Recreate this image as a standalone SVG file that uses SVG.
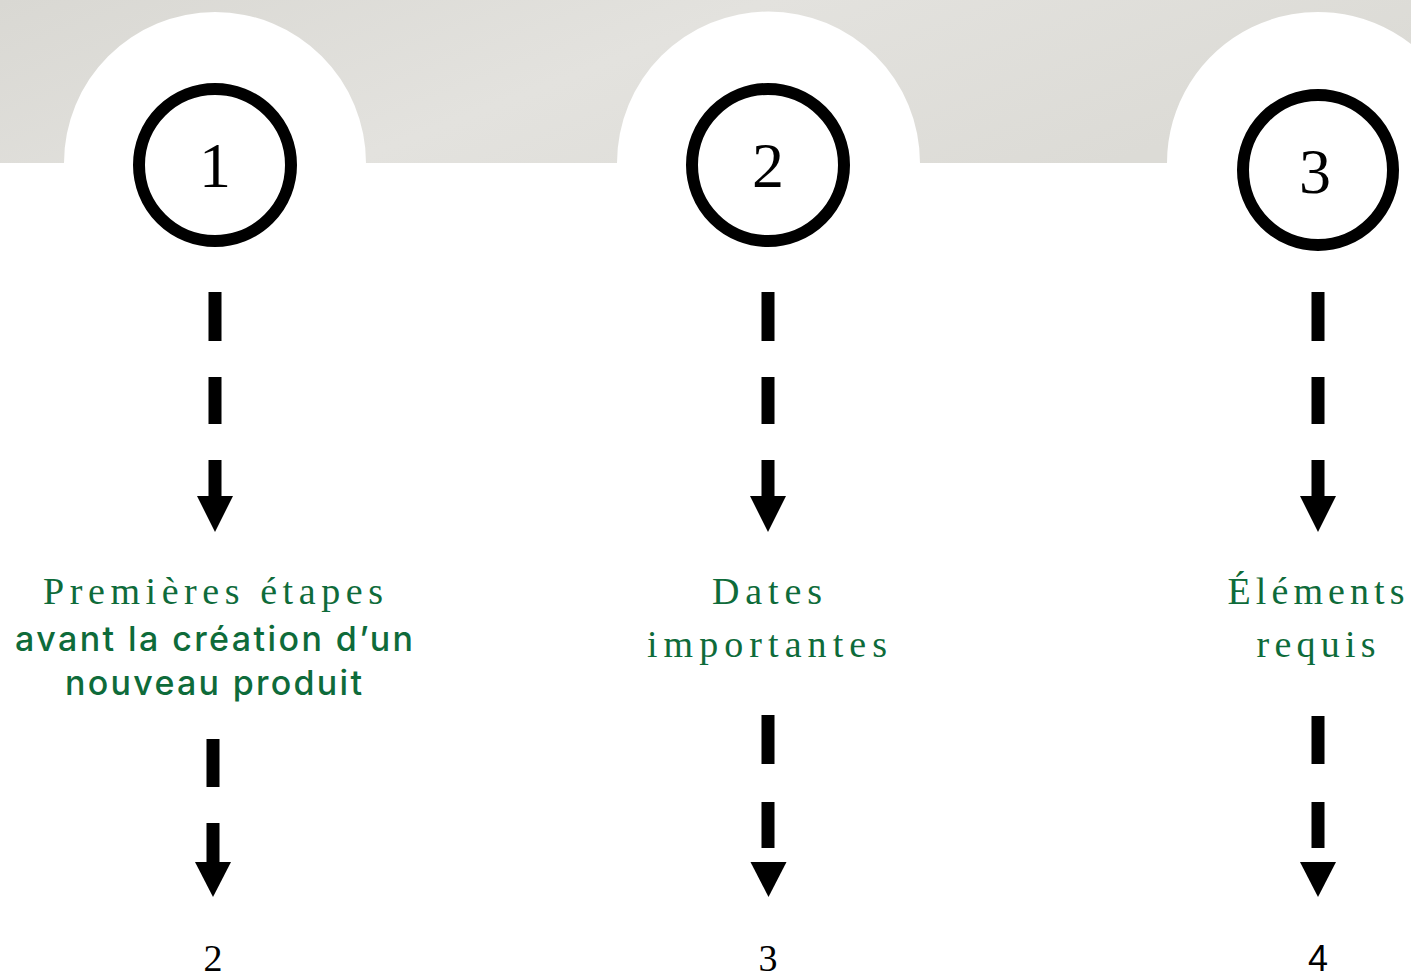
<svg xmlns="http://www.w3.org/2000/svg" width="1411" height="980" viewBox="0 0 1411 980">
  <defs>
    <linearGradient id="band" x1="0" y1="0" x2="1" y2="0.3">
      <stop offset="0" stop-color="#d9d8d3"/>
      <stop offset="0.5" stop-color="#e3e2de"/>
      <stop offset="1" stop-color="#dcdbd6"/>
    </linearGradient>
    <style>
      .ring { fill: #ffffff; stroke: #000000; stroke-width: 12; }
      .num { font-family: "Liberation Serif", "Times New Roman", serif; font-size: 64px; fill: #000000; text-anchor: middle; }
      .lab { font-family: "Liberation Serif", "Times New Roman", serif; font-size: 38px; fill: #0e6b3a; text-anchor: middle; }
      .sans { font-family: Inter, Lato, "Open Sans", "Liberation Sans", sans-serif; font-size: 34px; font-weight: 500; fill: #0e6b3a; text-anchor: middle; }
      .foot { font-family: "Liberation Serif", "Times New Roman", serif; font-size: 38px; fill: #000000; text-anchor: middle; }
      .foots { font-family: "Liberation Sans", Arial, sans-serif; font-size: 36px; fill: #000000; text-anchor: middle; }
      .dash { fill: #000000; }
    </style>
  </defs>
  <rect x="0" y="0" width="1411" height="980" fill="#ffffff"/>
  <path d="M0,0 H1411 V44 A151,151 0 0 0 1167,163 H920 A151,151 0 0 0 617,163 H366 A151,151 0 0 0 64,163 H0 Z" fill="url(#band)"/>

  <g id="connectors">
    <!-- column 1 upper -->
    <rect class="dash" x="208.5" y="292" width="13" height="49"/>
    <rect class="dash" x="208.5" y="377" width="13" height="47"/>
    <rect class="dash" x="208.5" y="460" width="13" height="37"/>
    <polygon class="dash" points="197,496 233,496 215,532"/>
    <!-- column 1 lower -->
    <rect class="dash" x="206.5" y="739" width="13" height="48"/>
    <rect class="dash" x="206.5" y="823" width="13" height="40"/>
    <polygon class="dash" points="195,862 231,862 213,897"/>
    <!-- column 2 upper -->
    <rect class="dash" x="761.5" y="292" width="13" height="49"/>
    <rect class="dash" x="761.5" y="377" width="13" height="47"/>
    <rect class="dash" x="761.5" y="460" width="13" height="37"/>
    <polygon class="dash" points="750,496 786,496 768,532"/>
    <!-- column 2 lower -->
    <rect class="dash" x="761.5" y="715" width="13" height="49"/>
    <rect class="dash" x="761.5" y="802" width="13" height="46"/>
    <polygon class="dash" points="750.5,862 786.5,862 768.5,897"/>
    <!-- column 3 upper -->
    <rect class="dash" x="1311.5" y="292" width="13" height="49"/>
    <rect class="dash" x="1311.5" y="377" width="13" height="47"/>
    <rect class="dash" x="1311.5" y="460" width="13" height="37"/>
    <polygon class="dash" points="1300,496 1336,496 1318,532"/>
    <!-- column 3 lower -->
    <rect class="dash" x="1311.5" y="716" width="13" height="48"/>
    <rect class="dash" x="1311.5" y="802" width="13" height="46"/>
    <polygon class="dash" points="1300,862 1336,862 1318,897"/>
  </g>

  <g id="node-1">
    <circle class="ring" cx="215" cy="165" r="76"/>
    <text class="num" x="215" y="187">1</text>
  </g>
  <g id="node-2">
    <circle class="ring" cx="768" cy="165" r="76"/>
    <text class="num" x="768" y="187">2</text>
  </g>
  <g id="node-3">
    <circle class="ring" cx="1318" cy="170" r="75"/>
    <text class="num" x="1315" y="193">3</text>
  </g>

  <g id="label-1">
    <text class="lab" x="213" y="604" textLength="340" lengthAdjust="spacing">Premières étapes</text>
    <text class="sans" x="214" y="651" textLength="398" lengthAdjust="spacing">avant la création d’un</text>
    <text class="sans" x="213.5" y="695" textLength="297" lengthAdjust="spacing">nouveau produit</text>
  </g>
  <g id="label-2">
    <text class="lab" x="767" y="604" textLength="110" lengthAdjust="spacing">Dates</text>
    <text class="lab" x="767" y="657" textLength="240" lengthAdjust="spacing">importantes</text>
  </g>
  <g id="label-3">
    <text class="lab" x="1316" y="604" textLength="177" lengthAdjust="spacing">Éléments</text>
    <text class="lab" x="1316" y="657" textLength="119" lengthAdjust="spacing">requis</text>
  </g>

  <g id="page-2">
    <text class="foot" x="213" y="971">2</text>
  </g>
  <g id="page-3">
    <text class="foot" x="768" y="971">3</text>
  </g>
  <g id="page-4">
    <text class="foots" x="1318" y="971">4</text>
  </g>
</svg>
